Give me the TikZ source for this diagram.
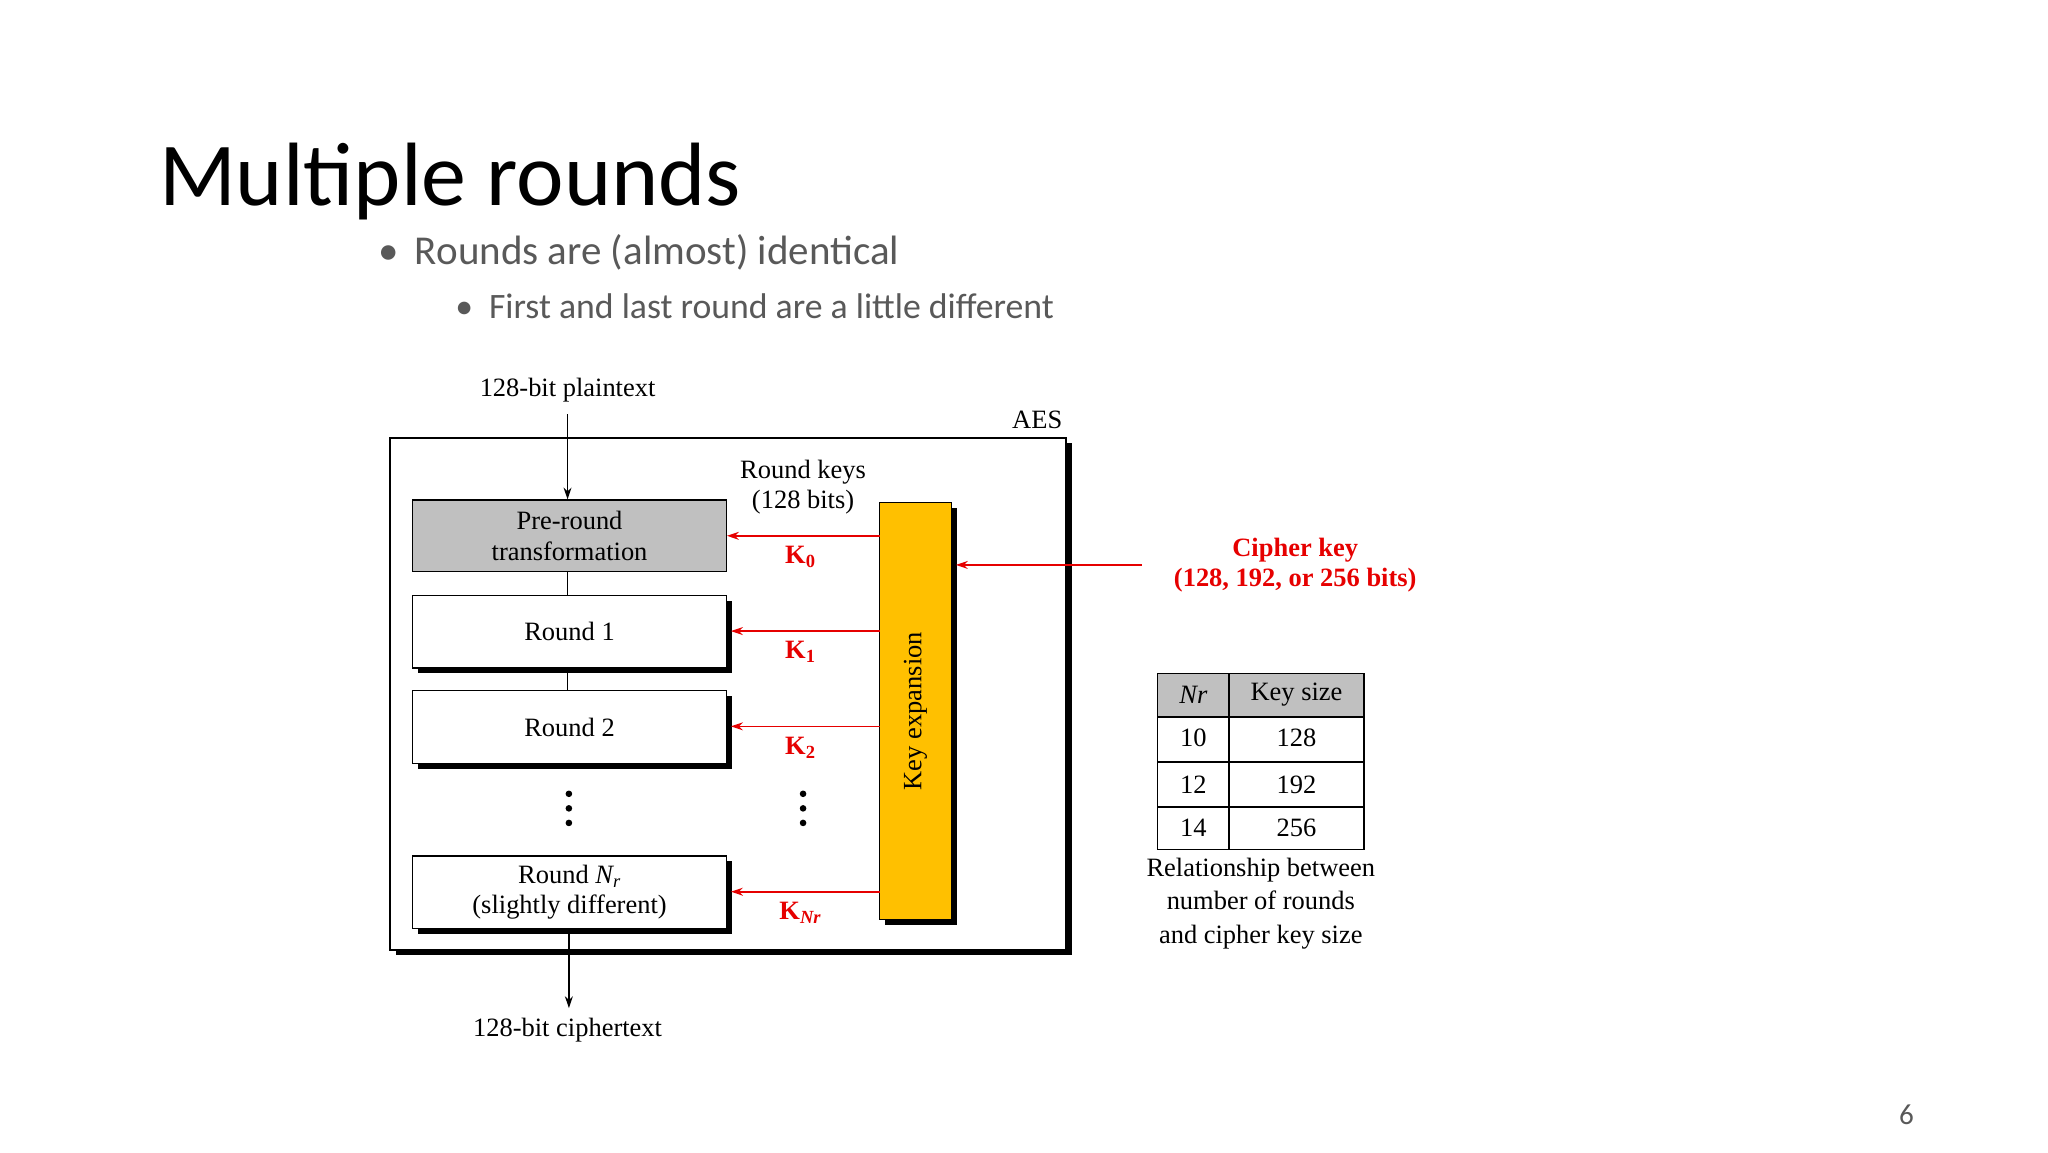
\documentclass[tikz,border=0pt]{standalone}
\usepackage{fontspec}
\setmainfont{Liberation Serif}
\newfontfamily\calfont{Carlito}
\usetikzlibrary{shadows,arrows.meta}
\definecolor{txtgray}{RGB}{89,89,89}
\definecolor{boxgray}{RGB}{192,192,192}
\definecolor{keyorange}{RGB}{255,192,0}
\definecolor{kred}{RGB}{230,0,0}
\begin{document}
\begin{tikzpicture}[x=1pt,y=-1pt,
  sh/.style={drop shadow={shadow xshift=4pt,shadow yshift=-4pt,opacity=1,fill=black}},
  rbox/.style={draw,line width=1pt,fill=white,sh},
  dtext/.style={font=\fontsize{20}{23}\selectfont,align=center},
  conn/.style={line width=1pt},
  arr/.style={line width=1pt,-{Stealth[length=9pt,width=6pt]}},
  rarr/.style={line width=1.2pt,draw=kred,-{Stealth[length=9pt,width=6pt]}},
  klab/.style={font=\fontsize{20}{23}\selectfont\bfseries,text=kred},
  dot/.style={circle,fill=black,inner sep=0pt,minimum size=5pt}]
\useasboundingbox (0,0) rectangle (1548,871);
% title
\node[anchor=base west,inner sep=0,font=\calfont\fontsize{68}{80}\selectfont] (title) at (120,155) {Multiple rounds};
\node[anchor=base west,inner sep=0,text=txtgray,font=\calfont\fontsize{31}{36}\selectfont] (b1) at (286,200) {•\hspace{12pt}Rounds are (almost) identical};
\node[anchor=base west,inner sep=0,text=txtgray,font=\calfont\fontsize{27}{32}\selectfont] (b2) at (344,241) {•\hspace{12pt}First and last round are a little different};
\node[anchor=base,inner sep=0,text=txtgray,font=\calfont\fontsize{22}{26}\selectfont] (pg) at (1441,850) {6};
% AES box
\draw[rbox,line width=1.5pt] (295,331) rectangle (806,718);
\node[dtext] (aes) at (784,317) {AES};
\node[dtext] (pt) at (429,295) {128-bit plaintext};
\node[dtext] (ct) at (429,779) {128-bit ciphertext};
% boxes
\node[draw,line width=1pt,fill=boxgray,minimum width=237pt,minimum height=54pt,dtext,inner sep=0] (pre) at (430.5,405) {Pre-round\\transformation};
\node[rbox,minimum width=237pt,minimum height=55pt,dtext,inner sep=0] (r1) at (430.5,477.5) {Round 1};
\node[rbox,minimum width=237pt,minimum height=55pt,dtext,inner sep=0] (r2) at (430.5,549.5) {Round 2};
\node[rbox,minimum width=237pt,minimum height=55pt,dtext,inner sep=0] (rn) at (430.5,674.5) {Round \textit{N\textsubscript{r}}\\(slightly different)};
\coordinate (ptb) at (429,313);
\coordinate (ctt) at (430,762);
\draw[arr] (ptb) -- (pre.north -| ptb);
\draw[conn] (pre.south -| ptb) -- (r1.north -| ptb);
\draw[conn] (r1.south -| ptb) -- (r2.north -| ptb);
\draw[arr] (rn.south -| ctt) -- (ctt);
\node[dot] (d1) at (430,600) {}; \node[dot] (d2) at (430,611) {}; \node[dot] (d3) at (430,622) {};
\node[dot] (e1) at (607,600) {}; \node[dot] (e2) at (607,611) {}; \node[dot] (e3) at (607,622) {};
% key expansion
\node[draw,line width=1pt,fill=keyorange,sh,minimum width=54pt,minimum height=315pt,inner sep=0] (ke) at (692,537.5) {};
\node[dtext,rotate=90] (kel) at (692,537.5) {Key expansion};
\node[dtext,align=center] (rk) at (607,368) {Round keys\\(128 bits)};
\coordinate (k0) at (665,405); \coordinate (k1) at (665,477); \coordinate (k2) at (665,549); \coordinate (kn) at (665,674);
\draw[rarr] (k0) -- (pre.east |- k0);
\draw[rarr] (k1) -- ([xshift=3pt]r1.east |- k1);
\draw[rarr] (k2) -- ([xshift=3pt]r2.east |- k2);
\draw[rarr] (kn) -- ([xshift=3pt]rn.east |- kn);
\node[klab] (l0) at (605,421) {K\textsubscript{0}};
\node[klab] (l1) at (605,493) {K\textsubscript{1}};
\node[klab] (l2) at (605,565) {K\textsubscript{2}};
\node[klab] (ln) at (605,690) {K\textsubscript{\textit{Nr}}};
\coordinate (ck) at (863,427);
\draw[rarr] (ck) -- ([xshift=3pt]ke.east |- ck);
\node[klab,align=center] (ckl) at (979,427) {Cipher key\\(128, 192, or 256 bits)};
% table
\fill[boxgray] (875,509) rectangle (1031,542);
\draw[line width=1pt] (875,509) rectangle (1031,642);
\foreach \yy in {542,576,610} \draw[line width=1pt] (875,\yy) -- (1031,\yy);
\draw[line width=1pt] (929,509) -- (929,642);
\node[dtext] (h1) at (902,525) {\itshape Nr};
\node[dtext] (h2) at (980,525) {Key size};
\node[dtext] (a1) at (902,558) {10}; \node[dtext] (a2) at (980,558) {128};
\node[dtext] (c1) at (902,593) {12}; \node[dtext] (c2) at (980,593) {192};
\node[dtext] (f1) at (902,626) {14}; \node[dtext] (f2) at (980,626) {256};
\node[dtext,font=\fontsize{20}{25}\selectfont] (cap) at (953,683) {Relationship between\\number of rounds\\and cipher key size};
\end{tikzpicture}
\end{document}
